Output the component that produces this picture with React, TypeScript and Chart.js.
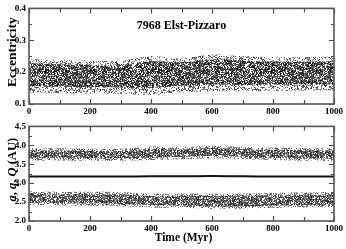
import React, { useEffect, useRef } from "react";
import { Chart, registerables } from "chart.js";

Chart.register(...registerables);

// ---- data (band envelopes of the scatter clouds) ----
const times = [0, 100, 200, 300, 400, 500, 600, 700, 800, 900, 1000];
const xTicks = [0, 200, 400, 600, 800, 1000];

const eccOuterHigh = [0.241, 0.238, 0.236, 0.236, 0.25, 0.243, 0.255, 0.25, 0.247, 0.247, 0.249];
const eccOuterLow = [0.136, 0.134, 0.133, 0.132, 0.128, 0.136, 0.14, 0.14, 0.141, 0.142, 0.143];
const eccCoreHigh = [0.228, 0.225, 0.223, 0.222, 0.234, 0.231, 0.24, 0.236, 0.233, 0.233, 0.234];
const eccCoreLow = [0.156, 0.154, 0.153, 0.152, 0.15, 0.157, 0.161, 0.16, 0.161, 0.162, 0.162];

const bigQOuterHigh = [3.92, 3.92, 3.91, 3.91, 3.97, 3.95, 3.99, 3.96, 3.94, 3.93, 3.92];
const bigQOuterLow = [3.6, 3.6, 3.59, 3.59, 3.61, 3.63, 3.65, 3.63, 3.61, 3.59, 3.58];
const bigQCoreHigh = [3.86, 3.86, 3.85, 3.85, 3.91, 3.89, 3.93, 3.9, 3.88, 3.87, 3.86];
const bigQCoreLow = [3.67, 3.67, 3.66, 3.66, 3.68, 3.7, 3.72, 3.7, 3.68, 3.66, 3.65];

const semiMajor = [3.175, 3.175, 3.175, 3.175, 3.182, 3.182, 3.186, 3.18, 3.176, 3.175, 3.175];

const smallQOuterHigh = [2.78, 2.77, 2.77, 2.76, 2.72, 2.73, 2.72, 2.73, 2.74, 2.75, 2.77];
const smallQOuterLow = [2.42, 2.41, 2.4, 2.39, 2.36, 2.35, 2.32, 2.33, 2.35, 2.36, 2.37];
const smallQCoreHigh = [2.72, 2.71, 2.71, 2.7, 2.66, 2.67, 2.66, 2.67, 2.68, 2.69, 2.71];
const smallQCoreLow = [2.48, 2.47, 2.46, 2.45, 2.42, 2.41, 2.38, 2.39, 2.41, 2.42, 2.43];

const titleText = "7968 Elst-Pizzaro";
const xTitle = "Time (Myr)";
const topYTitle = "Eccentricity";
const bottomYTitle: [string, boolean][] = [
  ["a", true],
  [", ", false],
  ["q", true],
  [", ", false],
  ["Q", true],
  [" (AU)", false],
];

const FONT = "'Liberation Serif', 'DejaVu Serif', serif";

// ---- texture for the scatter clouds (fill style only) ----
function hash(x: number, y: number, seed: number) {
  let n = (Math.imul(x, 374761393) + Math.imul(y, 668265263) + Math.imul(seed, 982451653)) | 0;
  n = Math.imul(n ^ (n >>> 13), 1274126177);
  n ^= n >>> 16;
  return (n >>> 0) / 4294967296;
}

function speckle(density: number, seed: number, lo: number, hi: number) {
  const S = 113;
  const c = document.createElement("canvas");
  c.width = S;
  c.height = S;
  const g = c.getContext("2d")!;
  const img = g.createImageData(S, S);
  for (let y = 0; y < S; y++) {
    for (let x = 0; x < S; x++) {
      if (hash(x, y, seed) < density) {
        const v = Math.round(lo + (hi - lo) * hash(y + 31, x + 17, seed + 5));
        const i = (y * S + x) * 4;
        img.data[i] = v;
        img.data[i + 1] = v;
        img.data[i + 2] = v;
        img.data[i + 3] = 255;
      }
    }
  }
  g.putImageData(img, 0, 0);
  return g.createPattern(c, "repeat")!;
}

const pts = (arr: number[]) => times.map((t, i) => ({ x: t, y: arr[i] }));

function band(high: number[], low: number[], pattern: CanvasPattern) {
  return [
    {
      data: pts(high),
      fill: "+1",
      backgroundColor: pattern,
      borderColor: "transparent",
      borderWidth: 0,
      pointRadius: 0,
      tension: 0.35,
    },
    {
      data: pts(low),
      fill: false,
      backgroundColor: "transparent",
      borderColor: "transparent",
      borderWidth: 0,
      pointRadius: 0,
      tension: 0.35,
    },
  ];
}

type Deco = {
  yMinor: number;
  yMajorEvery: number;
  title?: string;
  xTitle?: string;
  yTitle: [string, boolean][];
  yTitleSize: number;
  yTitleShift: number;
};

const decoPlugin = {
  id: "deco",
  afterDatasetsDraw(chart: any, _args: any, opts: Deco) {
    const { ctx, chartArea } = chart;
    const { left, right, top, bottom } = chartArea;
    const xs = chart.scales.x;
    const ys = chart.scales.y;
    ctx.save();
    ctx.strokeStyle = "#4a4a4a";
    ctx.lineWidth = 1.2;
    ctx.beginPath();
    for (let v = 0; v <= 1000; v += 100) {
      const px = Math.round(xs.getPixelForValue(v)) + 0.5;
      const len = v % 200 === 0 ? 5 : 4;
      ctx.moveTo(px, bottom);
      ctx.lineTo(px, bottom - len);
      ctx.moveTo(px, top);
      ctx.lineTo(px, top + len);
    }
    const n = Math.round((ys.max - ys.min) / opts.yMinor);
    for (let i = 0; i <= n; i++) {
      const v = ys.min + i * opts.yMinor;
      const py = Math.round(ys.getPixelForValue(v)) + 0.5;
      const len = i % opts.yMajorEvery === 0 ? 5 : 3;
      ctx.moveTo(left, py);
      ctx.lineTo(left + len, py);
      ctx.moveTo(right, py);
      ctx.lineTo(right - len, py);
    }
    ctx.stroke();
    ctx.strokeStyle = "#555";
    ctx.lineWidth = 1.6;
    ctx.strokeRect(left, top, right - left, bottom - top);

    ctx.fillStyle = "#000";
    if (opts.title) {
      ctx.font = `bold 12px ${FONT}`;
      ctx.textAlign = "center";
      ctx.textBaseline = "alphabetic";
      ctx.fillText(opts.title, (left + right) / 2, top + 21);
    }
    if (opts.xTitle) {
      ctx.font = `bold 11.5px ${FONT}`;
      ctx.textAlign = "center";
      ctx.textBaseline = "alphabetic";
      ctx.fillText(opts.xTitle, (left + right) / 2 + 2, bottom + 20);
    }
    // y title, rotated, possibly with italic parts
    const size = opts.yTitleSize;
    const fontOf = (it: boolean) => `${it ? "italic " : ""}bold ${size}px ${FONT}`;
    let total = 0;
    for (const [s, it] of opts.yTitle) {
      ctx.font = fontOf(it);
      total += ctx.measureText(s).width;
    }
    ctx.translate(15.5, (top + bottom) / 2 + opts.yTitleShift);
    ctx.rotate(-Math.PI / 2);
    ctx.textAlign = "left";
    ctx.textBaseline = "alphabetic";
    let cx = -total / 2;
    for (const [s, it] of opts.yTitle) {
      ctx.font = fontOf(it);
      ctx.fillText(s, cx, 0);
      cx += ctx.measureText(s).width;
    }
    ctx.restore();
  },
};

function makeScales(yMin: number, yMax: number, yStep: number, xHeight: number) {
  const tickFont = { family: FONT, weight: "bold" as const, size: 9 };
  return {
    x: {
      type: "linear" as const,
      min: 0,
      max: 1000,
      afterBuildTicks: (s: any) => {
        s.ticks = xTicks.map((v) => ({ value: v }));
      },
      afterFit: (s: any) => {
        s.height = xHeight;
      },
      grid: { display: false, drawTicks: false, tickLength: 0 },
      border: { display: false },
      ticks: {
        font: tickFont,
        color: "#000",
        padding: 2,
        maxRotation: 0,
        autoSkip: false,
        callback: (v: any) => String(v),
      },
    },
    y: {
      type: "linear" as const,
      min: yMin,
      max: yMax,
      afterFit: (s: any) => {
        s.width = 29;
      },
      grid: { display: false, drawTicks: false, tickLength: 0 },
      border: { display: false },
      ticks: {
        stepSize: yStep,
        font: tickFont,
        color: "#000",
        padding: 3,
        callback: (v: any) => Number(v).toFixed(1),
      },
    },
  };
}

export default function App() {
  const topRef = useRef<HTMLCanvasElement>(null);
  const botRef = useRef<HTMLCanvasElement>(null);

  useEffect(() => {
    const light = speckle(0.34, 3, 50, 160);
    const dense = speckle(0.66, 11, 0, 90);
    const lightB = speckle(0.38, 19, 60, 160);
    const denseB = speckle(0.68, 23, 20, 110);

    const top = new Chart(topRef.current!, {
      type: "line",
      data: {
        datasets: [...band(eccOuterHigh, eccOuterLow, light), ...band(eccCoreHigh, eccCoreLow, dense)] as any,
      },
      options: {
        animation: false,
        responsive: false,
        events: [],
        layout: { padding: { top: 5, right: 12, left: 0, bottom: 0 } },
        plugins: {
          legend: { display: false },
          tooltip: { enabled: false },
          deco: {
            yMinor: 0.05,
            yMajorEvery: 2,
            title: titleText,
            yTitle: [[topYTitle, false]],
            yTitleSize: 13.5,
            yTitleShift: -4,
          },
        } as any,
        scales: makeScales(0.1, 0.4, 0.1, 14) as any,
      },
      plugins: [decoPlugin],
    });

    const bot = new Chart(botRef.current!, {
      type: "line",
      data: {
        datasets: [
          ...band(bigQOuterHigh, bigQOuterLow, lightB),
          ...band(bigQCoreHigh, bigQCoreLow, denseB),
          ...band(smallQOuterHigh, smallQOuterLow, lightB),
          ...band(smallQCoreHigh, smallQCoreLow, denseB),
          {
            data: pts(semiMajor),
            fill: false,
            borderColor: "#111",
            borderWidth: 2,
            pointRadius: 0,
            tension: 0.35,
          },
        ] as any,
      },
      options: {
        animation: false,
        responsive: false,
        events: [],
        layout: { padding: { top: 5, right: 12, left: 0, bottom: 0 } },
        plugins: {
          legend: { display: false },
          tooltip: { enabled: false },
          deco: {
            yMinor: 0.25,
            yMajorEvery: 2,
            xTitle: xTitle,
            yTitle: bottomYTitle,
            yTitleSize: 12.5,
            yTitleShift: -4,
          },
        } as any,
        scales: makeScales(2.0, 4.5, 0.5, 28) as any,
      },
      plugins: [decoPlugin],
    });

    return () => {
      top.destroy();
      bot.destroy();
    };
  }, []);

  return (
    <div style={{ position: "absolute", left: 0, top: 0, width: 346, height: 249, background: "#fff" }}>
      <canvas ref={topRef} width={346} height={118} style={{ position: "absolute", left: 0, top: 0 }} />
      <canvas ref={botRef} width={346} height={131} style={{ position: "absolute", left: 0, top: 118 }} />
    </div>
  );
}
